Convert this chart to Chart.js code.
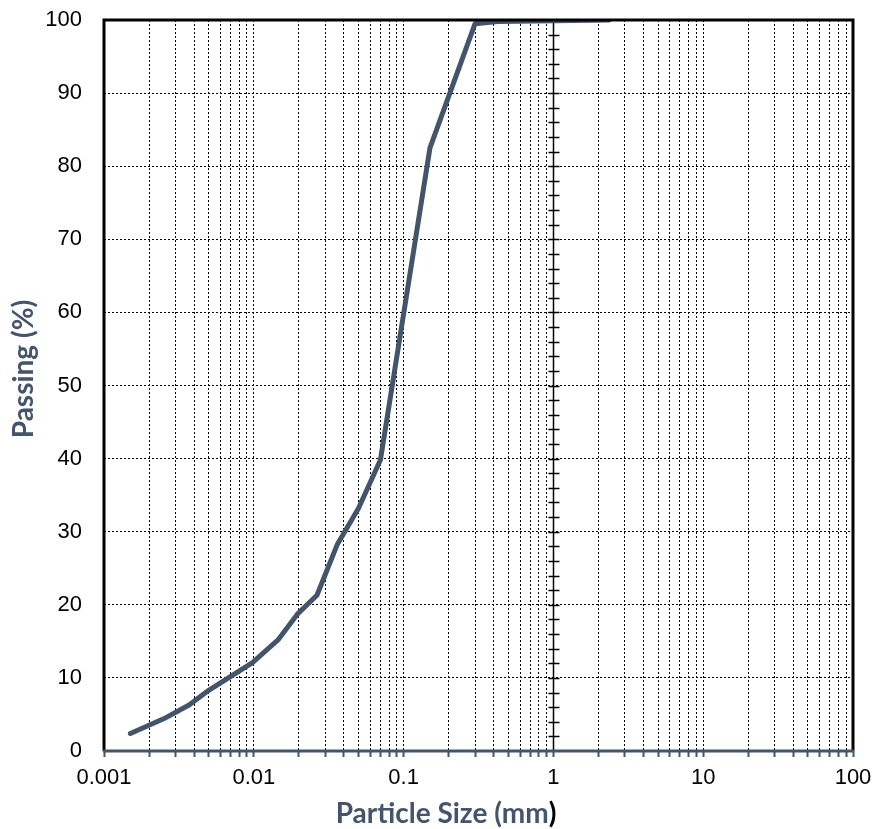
<!DOCTYPE html>
<html>
<head>
<meta charset="utf-8">
<script src="https://cdn.jsdelivr.net/npm/chart.js@4/dist/chart.umd.min.js"></script>
<style>
    html, body { margin: 0; padding: 0; background: #fff; }
    #wrap { width: 886px; height: 829px; }
</style>
</head>
<body>
<div id="wrap"><canvas id="gradation" width="886" height="829"></canvas></div>
<script>
// Courbe granulométrique
const sizeMm = [0.0015, 0.0025, 0.0037, 0.005, 0.0098, 0.0145, 0.0197, 0.0264, 0.036, 0.05, 0.07, 0.15, 0.3, 0.425, 2.36];
const passing = [2.4, 4.4, 6.3, 8.3, 12.1, 15.2, 18.8, 21.3, 28.2, 33.2, 39.8, 82.5, 99.5, 99.8, 100];
const xDecades = [0.001, 0.01, 0.1, 1, 10, 100];
const xDecadeLabels = ['0.001', '0.01', '0.1', '1', '10', '100'];
const yTicks = [0, 10, 20, 30, 40, 50, 60, 70, 80, 90, 100];

const slate = '#44546A';

// graduations secondaires 1..9 pour chaque décade
function buildLogTicks() {
    const ticks = [];
    xDecades.forEach((d, i) => {
        if (i === xDecades.length - 1) {
            ticks.push({ value: d, major: true });
            return;
        }
        for (let m = 1; m <= 9; m++) {
            ticks.push({ value: +(d * m).toPrecision(3), major: m === 1 });
        }
    });
    return ticks;
}

const framePlugin = {
    id: 'frame',
    beforeDatasetsDraw(chart) {
        const { ctx, chartArea: a, scales: { x, y } } = chart;
        ctx.save();
        // axe vertical à x = 1 avec graduations
        const x1 = Math.round(x.getPixelForValue(1)) + 0.5;
        ctx.strokeStyle = '#000';
        ctx.lineWidth = 1.5;
        ctx.beginPath();
        ctx.moveTo(x1, a.top);
        ctx.lineTo(x1, a.bottom);
        ctx.stroke();
        for (let v = 2; v < 100; v += 2) {
            const py = Math.round(y.getPixelForValue(v)) + 0.5;
            ctx.beginPath();
            ctx.moveTo(x1 - 5, py);
            ctx.lineTo(x1 + 6, py);
            ctx.stroke();
        }
        ctx.restore();
    },
    afterDraw(chart) {
        const { ctx, chartArea: a } = chart;
        ctx.save();
        // cadre
        ctx.strokeStyle = '#000';
        ctx.lineWidth = 3;
        ctx.beginPath();
        ctx.moveTo(a.left, a.bottom);
        ctx.lineTo(a.left, a.top);
        ctx.lineTo(a.right, a.top);
        ctx.lineTo(a.right, a.bottom);
        ctx.stroke();
        ctx.strokeStyle = slate;
        ctx.lineWidth = 3;
        ctx.beginPath();
        ctx.moveTo(a.left - 1, a.bottom);
        ctx.lineTo(a.right + 1, a.bottom);
        ctx.stroke();

        // titres des axes
        ctx.font = 'bold 28px Lato';
        ctx.textBaseline = 'middle';
        const part1 = 'Particle Size (mm';
        const part2 = ')';
        const w1 = ctx.measureText(part1).width;
        const w2 = ctx.measureText(part2).width;
        const cx = 446;
        const ty = 814;
        ctx.textAlign = 'left';
        ctx.fillStyle = slate;
        ctx.fillText(part1, cx - (w1 + w2) / 2, ty);
        ctx.fillStyle = '#000';
        ctx.fillText(part2, cx - (w1 + w2) / 2 + w1, ty);

        ctx.translate(24, 369);
        ctx.rotate(-Math.PI / 2);
        ctx.textAlign = 'center';
        ctx.fillStyle = slate;
        ctx.fillText('Passing (%)', 0, 0);
        ctx.restore();
    }
};

const ctx = document.getElementById('gradation');
new Chart(ctx, {
    type: 'line',
    data: {
        datasets: [{
            label: 'Passing',
            data: sizeMm.map((s, i) => ({ x: s, y: passing[i] })),
            borderColor: slate,
            borderWidth: 5,
            pointRadius: 0,
            tension: 0,
            borderCapStyle: 'round',
            borderJoinStyle: 'round',
            fill: false
        }]
    },
    options: {
        responsive: false,
        animation: false,
        layout: { padding: { top: 20, right: 33, left: 0, bottom: 0 } },
        plugins: {
            legend: { display: false },
            tooltip: { enabled: false }
        },
        scales: {
            x: {
                type: 'logarithmic',
                min: 0.001,
                max: 100,
                afterFit: (scale) => { scale.height = 78; },
                afterBuildTicks: (scale) => { scale.ticks = buildLogTicks(); },
                ticks: {
                    autoSkip: false,
                    maxRotation: 0,
                    padding: 8,
                    color: '#000',
                    font: { family: '"Liberation Sans", Arial', size: 22 },
                    callback: (value) => {
                        const i = xDecades.findIndex(d => Math.abs(d - value) / d < 1e-6);
                        return i >= 0 ? xDecadeLabels[i] : '';
                    }
                },
                grid: {
                    color: '#000',
                    lineWidth: 1,
                    tickColor: slate,
                    tickWidth: 2,
                    tickLength: 6,
                    tickBorderDash: []
                },
                border: { display: false, dash: [2, 2] }
            },
            y: {
                min: 0,
                max: 100,
                afterFit: (scale) => { scale.width = 104; },
                afterBuildTicks: (scale) => { scale.ticks = yTicks.map(v => ({ value: v })); },
                ticks: {
                    padding: 2,
                    color: '#000',
                    font: { family: '"Liberation Sans", Arial', size: 22 }
                },
                grid: {
                    color: '#000',
                    lineWidth: 1,
                    drawTicks: true,
                    tickLength: 20,
                    tickColor: 'rgba(0,0,0,0)'
                },
                border: { display: false, dash: [2, 2] }
            }
        }
    },
    plugins: [framePlugin]
});
</script>
</body>
</html>
